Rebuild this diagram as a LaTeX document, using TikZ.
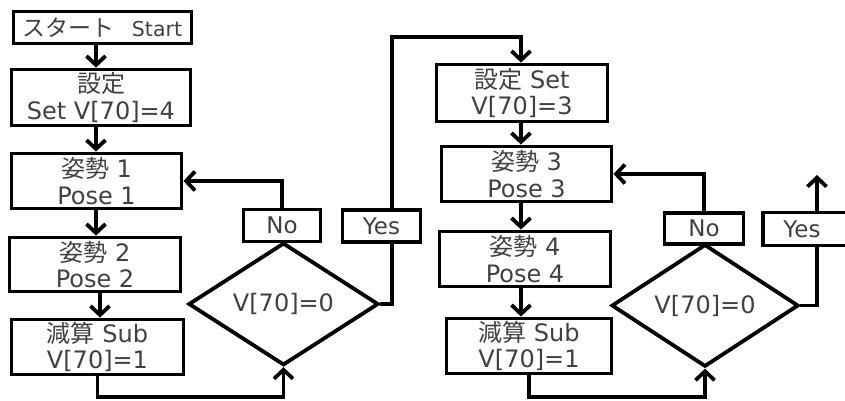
\documentclass[tikz,border=0pt]{standalone}
\usepackage{fontspec}
\setmainfont{DejaVu Sans}
\newfontfamily\jp{Noto Sans CJK JP}
\usetikzlibrary{arrows.meta,shapes.geometric,calc}
\begin{document}
\begin{tikzpicture}[x=1pt,y=-1pt,line width=3.8pt,
  box/.style={draw, rectangle, inner sep=0pt, align=center,
    font=\fontsize{24}{26.5}\selectfont, text=black!75},
  small/.style={font=\fontsize{23}{26}\selectfont},
  dia/.style={draw, diamond, inner sep=0pt, align=center,
    font=\fontsize{24}{26.5}\selectfont, text=black!75},
  arr/.style={-{Straight Barb[length=9pt,width=19pt]}}]
\clip (0,0) rectangle (845,400);
% left column
\node[box, minimum width=178pt, minimum height=32pt] (start) at (102.5,27.5) {{\jp\fontsize{23}{26}\selectfont スタート}\hspace{17pt}{\fontsize{20.5}{22}\selectfont Start}};
\node[box, minimum width=179pt, minimum height=56pt] (set1) at (101,97.5) {{\jp 設定}\\Set V[70]=4};
\node[box, minimum width=170pt, minimum height=55pt] (pose1) at (96.5,181) {{\jp 姿勢} 1\\Pose 1};
\node[box, minimum width=171pt, minimum height=54pt] (pose2) at (95,264.5) {{\jp 姿勢} 2\\Pose 2};
\node[box, minimum width=172pt, minimum height=55pt] (sub1) at (97.5,347) {{\jp 減算} Sub\\V[70]=1};
\node[dia, minimum width=190pt, minimum height=90pt] (d1) at (283.5,304) {V[70]=0};
\node[box, small, minimum width=77pt, minimum height=32pt] (no1) at (282,225.5) {No};
\node[box, small, minimum width=78pt, minimum height=32pt] (yes1) at (381.5,226) {Yes};
% right column
\node[box, minimum width=171pt, minimum height=57pt] (set2) at (522,93) {{\jp 設定} Set\\V[70]=3};
\node[box, minimum width=170pt, minimum height=55pt] (pose3) at (526.5,174) {{\jp 姿勢} 3\\Pose 3};
\node[box, minimum width=171pt, minimum height=55pt] (pose4) at (525,259) {{\jp 姿勢} 4\\Pose 4};
\node[box, minimum width=165pt, minimum height=55pt] (sub2) at (529,346) {{\jp 減算} Sub\\V[70]=1};
\node[dia, minimum width=187pt, minimum height=87pt] (d2) at (705,305.5) {V[70]=0};
\node[box, small, minimum width=79pt, minimum height=31pt] (no2) at (704,228.5) {No};
\node[box, small, minimum width=86pt, minimum height=33pt] (yes2) at (806,229) {Yes\hspace{8pt}};
% helper coordinates
\coordinate (cl) at (96,0);
\coordinate (cr) at (521,0);
\coordinate (yl) at (392,0);
\coordinate (yl2) at (817,0);
\coordinate (topy) at (0,37);
\coordinate (boty) at (0,397);
\coordinate (up) at (817,175);
% left flow
\draw[arr] (start.south -| cl) -- (set1.north -| cl);
\draw[arr] (set1.south -| cl) -- (pose1.north -| cl);
\draw[arr] (pose1.south -| cl) -- (pose2.north -| cl);
\draw[arr] ($(pose2.south -| cl)+(4,0)$) -- ($(sub1.north -| cl)+(4,0)$);
\draw[arr] (sub1.south) -- (sub1.south |- boty) -| (d1.south);
\draw (d1.north) -- (no1.south);
\draw[arr] (no1.north) |- (pose1.east);
\draw (d1.east) -| (yes1.south -| yl);
\draw[arr] (yes1.north -| yl) -- (yl |- topy) -| (set2.north -| cr);
% right flow
\draw[arr] (set2.south -| cr) -- (pose3.north -| cr);
\draw[arr] (pose3.south -| cr) -- (pose4.north -| cr);
\draw[arr] (pose4.south -| cr) -- (sub2.north -| cr);
\draw[arr] (sub2.south) -- (sub2.south |- boty) -| (d2.south);
\draw (d2.north) -- (no2.south);
\draw[arr] (no2.north) |- (pose3.east);
\draw (d2.east) -| (yes2.south -| yl2);
\draw[arr] (yes2.north -| yl2) -- (up);
\end{tikzpicture}
\end{document}
